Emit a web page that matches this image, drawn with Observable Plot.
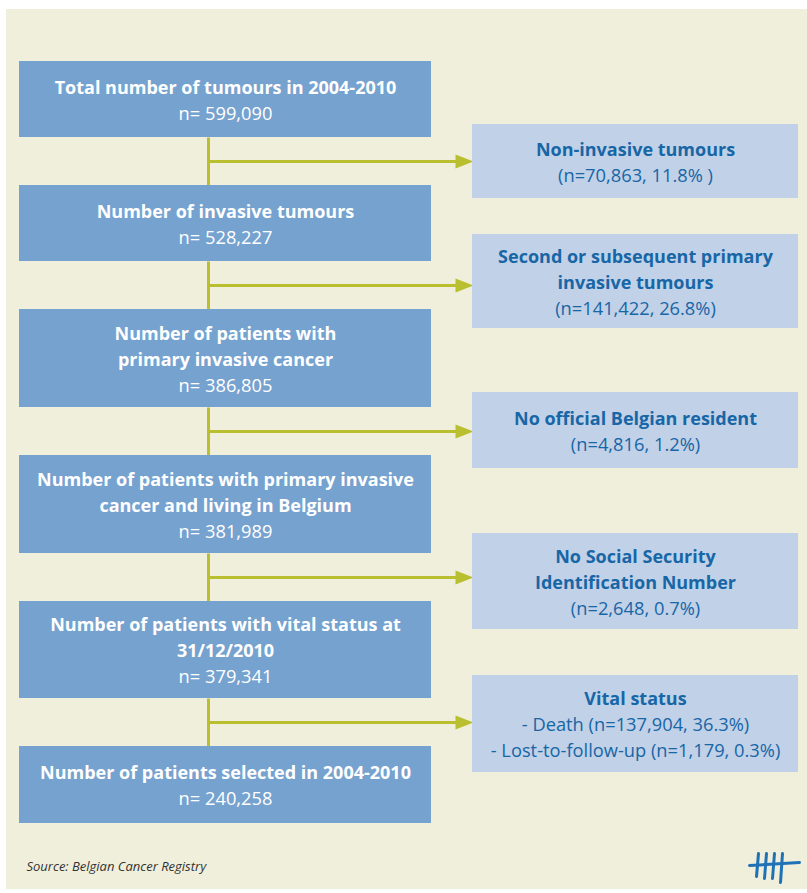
<!DOCTYPE html>
<html>
<head>
<meta charset="utf-8">
<script src="https://cdn.jsdelivr.net/npm/d3@7"></script>
<script src="https://cdn.jsdelivr.net/npm/@observablehq/plot@0.6"></script>
<style>
  html, body { margin: 0; padding: 0; background: #ffffff; }
  #chart svg { display: block; }
</style>
</head>
<body>
<div id="chart"></div>
<script>
// ---- data ----
const mainTitles = [
  ["Total number of tumours in 2004-2010"],
  ["Number of invasive tumours"],
  ["Number of patients with", "primary invasive cancer"],
  ["Number of patients with primary invasive", "cancer and living in Belgium"],
  ["Number of patients with vital status at", "31/12/2010"],
  ["Number of patients selected in 2004-2010"]
];
const mainCounts = ["n= 599,090", "n= 528,227", "n= 386,805", "n= 381,989", "n= 379,341", "n= 240,258"];

const exclTitles = [
  ["Non-invasive tumours"],
  ["Second or subsequent primary", "invasive tumours"],
  ["No official Belgian resident"],
  ["No Social Security", "Identification Number"],
  ["Vital status"]
];
const exclDetails = [
  ["(n=70,863, 11.8% )"],
  ["(n=141,422, 26.8%)"],
  ["(n=4,816, 1.2%)"],
  ["(n=2,648, 0.7%)"],
  ["- Death (n=137,904, 36.3%)", "- Lost-to-follow-up (n=1,179, 0.3%)"]
];
const sourceNote = "Source: Belgian Cancer Registry";

// ---- layout (pixel space of the figure) ----
const W = 807, H = 893;
const mainBox = [[61,137],[185,261],[309,407],[455,553],[601,698],[746,823]];
const exclBox = [[124,198],[234,328],[392,468],[533,629],[675,772]];
const LX1 = 19, LX2 = 431, RX1 = 472, RX2 = 798, SPINE = 208;
const LINE = 26;

const colors = {
  bg: "#f0efdc", main: "#76a2cf", excl: "#c1d1e8", arrow: "#b9bf2f",
  exclText: "#1766a6", logo: "#1f72b6", source: "#333333"
};

const mainRects = mainBox.map(([y1,y2], i) => ({x1: LX1, x2: LX2, y1, y2, i}));
const exclRects = exclBox.map(([y1,y2], i) => ({x1: RX1, x2: RX2, y1, y2, i}));

function linesFor(box, titles, details, cx) {
  const out = [];
  box.forEach(([y1,y2], i) => {
    const all = titles[i].map(t => ({t, bold: true})).concat(details[i].map(t => ({t, bold: false})));
    const c = (y1 + y2) / 2;
    const n = all.length;
    all.forEach((d, k) => out.push({x: cx, y: c + (k - (n - 1) / 2) * LINE, text: d.t, bold: d.bold}));
  });
  return out;
}
const mainLines = linesFor(mainBox, mainTitles, mainCounts.map(s => [s]), (LX1 + LX2) / 2);
const exclLines = linesFor(exclBox, exclTitles, exclDetails, (RX1 + RX2) / 2);

// connectors
const spine = [];
for (let i = 0; i < mainBox.length - 1; i++) spine.push({x1: SPINE, x2: SPINE, y1: mainBox[i][1], y2: mainBox[i+1][0]});
const branches = exclBox.map((b, i) => {
  const y = (mainBox[i][1] + mainBox[i+1][0]) / 2;
  return {x1: SPINE, x2: RX1 - 16, y};
});
const heads = branches.map(b => ({pts: [[RX1 - 17, b.y - 7], [RX1 + 1, b.y], [RX1 - 17, b.y + 7]]}));

// logo strokes
const logo = [
  {x1: 758, y1: 853, x2: 756, y2: 876},
  {x1: 766, y1: 853, x2: 764, y2: 878},
  {x1: 774, y1: 853, x2: 772, y2: 878},
  {x1: 782, y1: 853, x2: 780, y2: 882},
  {x1: 749, y1: 865, x2: 799, y2: 862}
];

const font = "'Open Sans', sans-serif";
const textOpts = (fill, bold) => ({
  x: "x", y: "y", text: "text", fill, textAnchor: "middle", dy: 1.5,
  fontSize: bold ? 18 : 18.3, fontWeight: bold ? 700 : 400, fontFamily: font
});

const plot = Plot.plot({
  width: W, height: H,
  margin: 0,
  x: {domain: [0, W], range: [0, W], axis: null},
  y: {domain: [0, H], range: [0, H], axis: null},
  style: {background: "#ffffff", fontFamily: font},
  marks: [
    Plot.rect([{x1: 6, x2: W, y1: 9, y2: 889}], {x1: "x1", x2: "x2", y1: "y1", y2: "y2", fill: colors.bg}),
    Plot.link(spine, {x1: "x1", x2: "x2", y1: "y1", y2: "y2", stroke: colors.arrow, strokeWidth: 3}),
    Plot.link(branches, {x1: "x1", x2: "x2", y1: "y", y2: "y", stroke: colors.arrow, strokeWidth: 3}),
    Plot.line(heads.flatMap((h, k) => h.pts.map(p => ({x: p[0], y: p[1], k})))
      , {x: "x", y: "y", z: "k", fill: colors.arrow, stroke: "none", curve: "linear-closed"}),
    Plot.rect(mainRects, {x1: "x1", x2: "x2", y1: "y1", y2: "y2", fill: colors.main}),
    Plot.rect(exclRects, {x1: "x1", x2: "x2", y1: "y1", y2: "y2", fill: colors.excl}),
    Plot.text(mainLines.filter(d => d.bold), textOpts("#ffffff", true)),
    Plot.text(mainLines.filter(d => !d.bold), textOpts("#ffffff", false)),
    Plot.text(exclLines.filter(d => d.bold), textOpts(colors.exclText, true)),
    Plot.text(exclLines.filter(d => !d.bold), textOpts(colors.exclText, false)),
    Plot.text([sourceNote], {x: 26, y: 866, text: d => d, textAnchor: "start", fontSize: 13,
      fontStyle: "italic", fill: colors.source}),
    Plot.link(logo, {x1: "x1", x2: "x2", y1: "y1", y2: "y2", stroke: colors.logo, strokeWidth: 3, strokeLinecap: "round"})
  ]
});
document.getElementById("chart").appendChild(plot);
</script>
</body>
</html>
